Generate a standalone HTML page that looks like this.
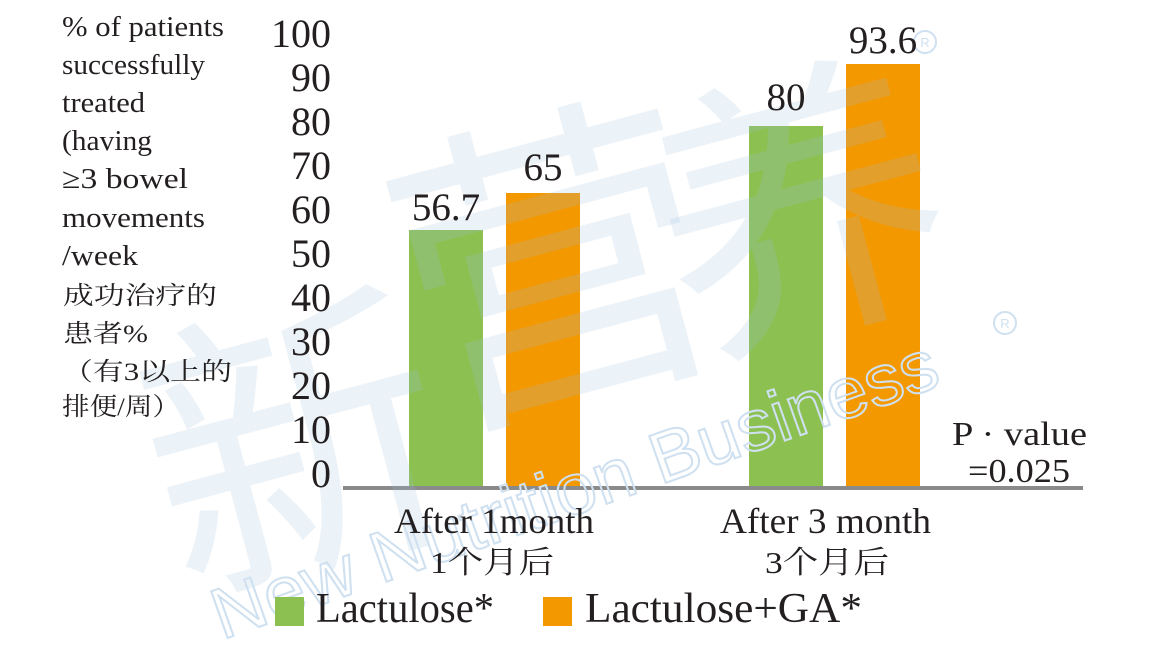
<!DOCTYPE html>
<html>
<head>
<meta charset="utf-8">
<style>
  html, body { margin: 0; padding: 0; background: #ffffff; }
  body { width: 1153px; height: 665px; overflow: hidden; position: relative; }
  svg { display: block; position: absolute; left: 0; top: 0; }
  .t { font-family: "Liberation Serif", "Noto Serif CJK SC", serif; fill: #231f20; }
  .c { font-family: "Liberation Serif", "Noto Serif CJK SC", serif; fill: #231f20; }
</style>
</head>
<body>
<svg width="1153" height="665" viewBox="0 0 1153 665" xmlns="http://www.w3.org/2000/svg" overflow="hidden">
  <defs>
    <clipPath id="frame"><rect x="0" y="0" width="1153" height="665"/></clipPath>
  </defs>
  <rect x="0" y="0" width="1153" height="665" fill="#ffffff"/>

  <!-- Bars -->
  <rect x="409" y="230" width="74" height="257" fill="#8cc152"/>
  <rect x="506" y="193" width="74" height="294" fill="#f49800"/>
  <rect x="749" y="126" width="74" height="361" fill="#8cc152"/>
  <rect x="846" y="64" width="74" height="423" fill="#f49800"/>

  <!-- Axis line -->
  <rect x="343" y="486" width="740" height="4" fill="#8a8a8a"/>

  <!-- Watermark -->
  <g clip-path="url(#frame)">
    <g fill="#9dbddd" fill-opacity="0.2" font-family="'Noto Sans CJK SC', sans-serif" font-weight="400" text-anchor="middle" dominant-baseline="central">
      <text x="290" y="425" font-size="300" transform="rotate(-15 290 425)">新</text>
      <text x="548" y="245" font-size="320" transform="rotate(-15 548 245)">营</text>
      <text x="795" y="190" font-size="290" transform="rotate(-15 795 190)">养</text>
    </g>
    <g fill="none" stroke="#cfe0f0" stroke-width="2" font-family="'Liberation Sans', sans-serif">
      <text x="222" y="640" font-size="72" textLength="765" lengthAdjust="spacingAndGlyphs" transform="rotate(-19.5 222 640)">New Nutrition Business</text>
    </g>
    <g fill="none" stroke="#cfe0f0" stroke-width="2">
      <circle cx="1005" cy="323" r="11"/>
      <circle cx="925" cy="42" r="11"/>
    </g>
    <g fill="#cfe0f0" font-family="'Liberation Sans', sans-serif" font-size="13" text-anchor="middle">
      <text x="1005" y="328">R</text>
      <text x="925" y="47">R</text>
    </g>
  </g>

  <!-- Y-axis title (left) -->
  <g class="t" font-size="29">
    <text x="62" y="36" textLength="162" lengthAdjust="spacingAndGlyphs">% of patients</text>
    <text x="62" y="74" textLength="143" lengthAdjust="spacingAndGlyphs">successfully</text>
    <text x="62" y="112" textLength="83" lengthAdjust="spacingAndGlyphs">treated</text>
    <text x="62" y="150" textLength="90" lengthAdjust="spacingAndGlyphs">(having</text>
    <text x="62" y="188" textLength="126" lengthAdjust="spacingAndGlyphs">≥3 bowel</text>
    <text x="62" y="227" textLength="143" lengthAdjust="spacingAndGlyphs">movements</text>
    <text x="62" y="265" textLength="76" lengthAdjust="spacingAndGlyphs">/week</text>
  </g>
  <g class="c" font-size="25">
    <text x="63" y="304" textLength="154" lengthAdjust="spacingAndGlyphs">成功治疗的</text>
    <text x="63" y="342" textLength="85" lengthAdjust="spacingAndGlyphs">患者%</text>
    <text x="62" y="380" textLength="170" lengthAdjust="spacingAndGlyphs">（有3以上的</text>
    <text x="62" y="415" textLength="118" lengthAdjust="spacingAndGlyphs">排便/周）</text>
  </g>

  <!-- Y ticks -->
  <g class="t" font-size="40" text-anchor="end">
    <text x="331" y="47">100</text>
    <text x="331" y="91">90</text>
    <text x="331" y="135">80</text>
    <text x="331" y="179">70</text>
    <text x="331" y="223">60</text>
    <text x="331" y="267">50</text>
    <text x="331" y="311">40</text>
    <text x="331" y="355">30</text>
    <text x="331" y="399">20</text>
    <text x="331" y="443">10</text>
    <text x="331" y="487">0</text>
  </g>

  <!-- Value labels -->
  <g class="t" font-size="39" text-anchor="middle">
    <text x="446" y="220">56.7</text>
    <text x="543" y="180">65</text>
    <text x="786" y="110">80</text>
    <text x="883" y="53">93.6</text>
  </g>

  <!-- P value -->
  <g class="t" font-size="34">
    <text x="952" y="445" textLength="135" lengthAdjust="spacingAndGlyphs">P · value</text>
    <text x="968" y="482" textLength="102" lengthAdjust="spacingAndGlyphs">=0.025</text>
  </g>

  <!-- Category labels -->
  <g class="t" font-size="36">
    <text x="394" y="533" textLength="200" lengthAdjust="spacingAndGlyphs">After 1month</text>
    <text x="720" y="533" textLength="211" lengthAdjust="spacingAndGlyphs">After 3 month</text>
  </g>
  <g class="c" font-size="31">
    <text x="430" y="573" textLength="124" lengthAdjust="spacingAndGlyphs">1个月后</text>
    <text x="765" y="573" textLength="124" lengthAdjust="spacingAndGlyphs">3个月后</text>
  </g>

  <!-- Legend -->
  <rect x="275" y="597" width="29" height="29" fill="#8cc152"/>
  <rect x="543" y="597" width="29" height="29" fill="#f49800"/>
  <g class="t" font-size="42">
    <text x="316" y="622" textLength="178" lengthAdjust="spacingAndGlyphs">Lactulose*</text>
    <text x="585" y="622" textLength="277" lengthAdjust="spacingAndGlyphs">Lactulose+GA*</text>
  </g>
</svg>
</body>
</html>
